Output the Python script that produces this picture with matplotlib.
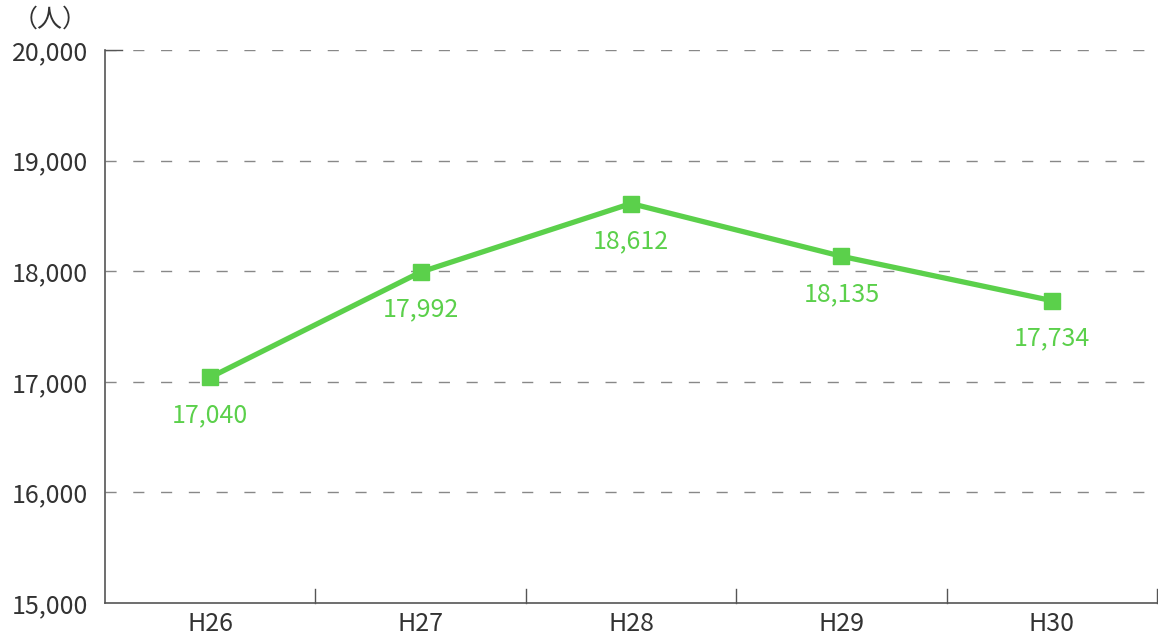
import numpy as np
import matplotlib.pyplot as plt

plt.rcParams['font.family'] = ['Noto Sans CJK JP', 'DejaVu Sans']

years = ['H26', 'H27', 'H28', 'H29', 'H30']
people = [17040, 17992, 18612, 18135, 17734]

green = '#5bd04b'
axis_col = '#555555'

fig = plt.figure(figsize=(11.58, 6.44), dpi=100)
ax = fig.add_axes([105/1158, 1 - 603/644, 1052/1158, 553/644])

x = np.arange(len(years))
ax.plot(x, people, color=green, lw=3.8, marker='s', ms=12, zorder=3)
for xi, v in zip(x, people):
    ax.annotate(f'{v:,}', (xi, v), xytext=(0, -27), textcoords='offset points',
                ha='center', va='center', fontsize=18, color=green)

ax.set_xlim(-0.5, len(years) - 0.5)
ax.set_ylim(15000, 20000)
ax.set_yticks(np.arange(15000, 20001, 1000))
ax.set_yticklabels([f'{v:,}' for v in range(15000, 20001, 1000)],
                   fontsize=18, color='#333333')
for v in range(16000, 20001, 1000):
    ax.axhline(v, color='#888888', lw=1.0, ls=(0, (8, 12)), zorder=1)

ax.set_xticks(x)
ax.set_xticklabels(years, fontsize=18, color='#333333')
ax.tick_params(axis='x', length=0, pad=6)
ax.tick_params(axis='y', length=0, pad=12)
# category separators on the x axis
for b in np.arange(0.5, len(years), 1.0):
    ax.plot([b, b], [15000, 15130], color=axis_col, lw=1.0, clip_on=False)
ax.plot([-0.5, -0.42], [20000, 20000], color=axis_col, lw=1.0, clip_on=False)

for side in ('top', 'right'):
    ax.spines[side].set_visible(False)
for side in ('left', 'bottom'):
    ax.spines[side].set_color(axis_col)
    ax.spines[side].set_linewidth(1.2)

fig.text(50/1158, 1 - 20/644, '（人）', fontsize=18, color='#333333',
         ha='center', va='center')

fig.savefig('out.png', dpi=100)
